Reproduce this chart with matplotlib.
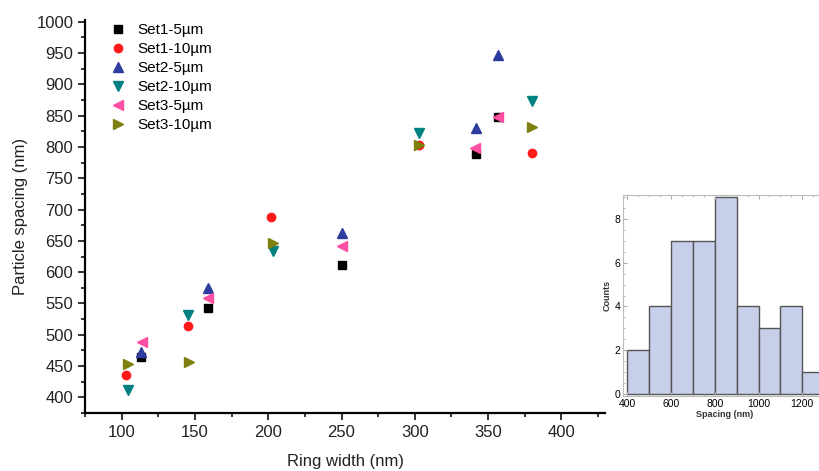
import matplotlib.pyplot as plt
from matplotlib.ticker import MultipleLocator

plt.rcParams['font.family'] = ['Liberation Sans', 'DejaVu Sans']

# Main scatter data: ring width (nm) vs particle spacing (nm)
set1_5_x = [113, 159, 250, 342, 357]
set1_5_y = [465, 543, 611, 788, 847]
set1_10_x = [103, 145, 202, 303, 380]
set1_10_y = [435, 514, 688, 803, 791]
set2_5_x = [113, 159, 250, 342, 357]
set2_5_y = [473, 575, 663, 830, 946]
set2_10_x = [104, 145, 203, 303, 380]
set2_10_y = [412, 531, 633, 822, 873]
set3_5_x = [114, 159, 250, 341, 357]
set3_5_y = [489, 559, 642, 799, 847]
set3_10_x = [104, 146, 203, 303, 380]
set3_10_y = [454, 456, 646, 803, 831]

labels = ['Set1-5µm', 'Set1-10µm', 'Set2-5µm', 'Set2-10µm', 'Set3-5µm', 'Set3-10µm']
colours = ['#000000', '#ff1a1a', '#2e3c9e', '#008080', '#ff4fa3', '#7f7f10']
markers = ['s', 'o', '^', 'v', '<', '>']

# Inset histogram
hist_edges = [400, 500, 600, 700, 800, 900, 1000, 1100, 1200, 1300]
hist_counts = [2, 4, 7, 7, 9, 4, 3, 4, 1]

fig = plt.figure(figsize=(8.19, 4.71), dpi=100)
ax = fig.add_axes([0.104, 0.123, 0.635, 0.835])

series = [(set1_5_x, set1_5_y), (set1_10_x, set1_10_y), (set2_5_x, set2_5_y),
          (set2_10_x, set2_10_y), (set3_5_x, set3_5_y), (set3_10_x, set3_10_y)]
for (xs, ys), lab, col, mk in zip(series, labels, colours, markers):
    size = 6 if mk in ('s', 'o') else 7.5
    ax.plot(xs, ys, linestyle='none', marker=mk, color=col, ms=size, label=lab)

ax.set_xlim(75, 430)
ax.set_ylim(375, 1003)
ax.xaxis.set_major_locator(MultipleLocator(50))
ax.xaxis.set_minor_locator(MultipleLocator(25))
ax.yaxis.set_major_locator(MultipleLocator(50))
ax.yaxis.set_minor_locator(MultipleLocator(25))
ax.spines['top'].set_visible(False)
ax.spines['right'].set_visible(False)
ax.spines['left'].set_linewidth(1.6)
ax.spines['bottom'].set_linewidth(1.6)
ax.tick_params(which='major', direction='out', length=5, width=1.3, labelsize=12, colors='#222222')
ax.tick_params(which='minor', direction='out', length=3, width=1.1)
ax.set_xlabel('Ring width (nm)', fontsize=12, color='#222222', labelpad=10)
ax.set_ylabel('Particle spacing (nm)', fontsize=12, color='#222222', labelpad=6)

ax.legend(loc='upper left', bbox_to_anchor=(0.03, 1.015), frameon=False, fontsize=11,
          handlelength=1.0, handletextpad=0.8, labelspacing=0.33, borderaxespad=0.2)

# Inset histogram (runs off the right edge like the original)
ins = fig.add_axes([0.761, 0.159, 0.248, 0.427])
ins.bar(hist_edges[:-1], hist_counts, width=100, align='edge',
        color='#c8cfea', edgecolor='#555555', linewidth=1.0)
ins.set_xlim(382, 1310)
ins.set_ylim(-0.1, 9.1)
ins.xaxis.set_major_locator(MultipleLocator(200))
ins.xaxis.set_minor_locator(MultipleLocator(50))
ins.yaxis.set_major_locator(MultipleLocator(2))
ins.yaxis.set_minor_locator(MultipleLocator(0.5))
for sp in ins.spines.values():
    sp.set_color('#bbbbbb')
    sp.set_linewidth(0.8)
ins.tick_params(which='both', direction='in', top=True, right=True, color='#aaaaaa',
                labelsize=7.5, pad=2)
ins.tick_params(which='major', length=3)
ins.tick_params(which='minor', length=1.5)
ins.set_xlabel('Spacing (nm)', fontsize=6.5, labelpad=1, fontweight='bold', color='#333333')
ins.set_ylabel('Counts', fontsize=6.5, labelpad=2, fontweight='bold', color='#333333')

fig.savefig('out.png', dpi=100)
